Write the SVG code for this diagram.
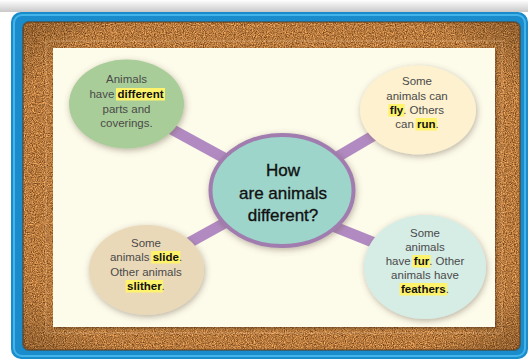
<svg xmlns="http://www.w3.org/2000/svg" width="528" height="360" viewBox="0 0 528 360">
<defs>
<style>
.t{font-family:"Liberation Sans",Arial,sans-serif;font-size:11.5px;fill:#4a4a4a}
.b{font-weight:bold;fill:#111}
.c{font-family:"Liberation Sans",Arial,sans-serif;font-size:17px;fill:#111;text-anchor:middle;stroke:#111;stroke-width:0.35}
.hl{fill:#fff36b}
.bar{stroke:#b28ac2;stroke-width:11;stroke-linecap:butt}
</style>
<filter id="cork" x="0" y="0" width="100%" height="100%" color-interpolation-filters="sRGB">
<feTurbulence type="fractalNoise" baseFrequency="0.9" numOctaves="3" seed="4" result="n"/>
<feColorMatrix in="n" type="matrix" values="0.9 0 0 0 0.27  0.7 0 0 0 0.13  0.45 0 0 0 0.02  0 0 0 0 1" result="d"/>
<feComposite in="d" in2="SourceGraphic" operator="in"/>
</filter>
<filter id="sh" x="-20%" y="-20%" width="140%" height="140%">
<feDropShadow dx="1" dy="2" stdDeviation="3" flood-color="#6b5a4a" flood-opacity="0.45"/>
</filter>
<filter id="psh" x="-5%" y="-5%" width="110%" height="110%">
<feDropShadow dx="1.5" dy="1.5" stdDeviation="1.2" flood-color="#3a2510" flood-opacity="0.5"/>
</filter>
<radialGradient id="vig" cx="50%" cy="50%" r="72%">
<stop offset="80%" stop-color="#000" stop-opacity="0"/>
<stop offset="100%" stop-color="#3a1e05" stop-opacity="0.3"/>
</radialGradient>
<linearGradient id="topsh" x1="0" y1="0" x2="0" y2="1">
<stop offset="0" stop-color="#fff"/>
<stop offset="1" stop-color="#c9c9c9"/>
</linearGradient>
</defs>
<rect width="528" height="360" fill="#ffffff"/>
<rect x="0" y="0" width="528" height="12" fill="url(#topsh)"/>
<g id="frame">
<rect x="11" y="12" width="517" height="347" rx="10" fill="#1a8ccc"/>
<rect x="14" y="15" width="511" height="341" rx="8" fill="none" stroke="#43b4ea" stroke-width="2"/>
<rect x="23" y="22" width="497" height="328" rx="6" fill="#b8804a" filter="url(#cork)"/>
<rect x="23" y="22" width="497" height="328" rx="6" fill="url(#vig)"/>
<rect x="23" y="22" width="497" height="328" rx="6" fill="none" stroke="#5a3512" stroke-opacity="0.5" stroke-width="2"/>
<rect x="46" y="41" width="456" height="292" fill="none" stroke="#f0d2a5" stroke-opacity="0.35" stroke-width="1"/>
<rect x="53" y="48" width="442" height="279" fill="#fdfbea" filter="url(#psh)"/>
</g>
<g id="connectors">
<line class="bar" x1="140" y1="112" x2="250" y2="172"/>
<line class="bar" x1="400" y1="120" x2="310" y2="173"/>
<line class="bar" x1="165" y1="256" x2="250" y2="209"/>
<line class="bar" x1="300" y1="213" x2="400" y2="253"/>
</g>
<g id="center">
<ellipse cx="282" cy="190.5" rx="71.5" ry="55.5" fill="#9dd5cb" stroke="#a17daf" stroke-width="4" filter="url(#sh)"/>
<text class="c" x="283" y="176">How</text>
<text class="c" x="283" y="199">are animals</text>
<text class="c" x="283" y="221">different?</text>
</g>
<g id="parts">
<ellipse cx="126.5" cy="104" rx="57.5" ry="44.5" fill="#a9cd98" filter="url(#sh)"/>
<rect class="hl" x="116" y="88" width="49" height="12.5"/>
<text class="t" x="126.5" y="83" text-anchor="middle">Animals</text>
<text class="t" x="89.4" y="98">have <tspan class="b">different</tspan></text>
<text class="t" x="126.5" y="112.5" text-anchor="middle">parts and</text>
<text class="t" x="126.5" y="127" text-anchor="middle">coverings.</text>
</g>
<g id="fly">
<ellipse cx="418" cy="110" rx="58" ry="44.5" fill="#fdf1cf" filter="url(#sh)"/>
<rect class="hl" x="388.3" y="104" width="16.4" height="12.5"/>
<rect class="hl" x="415.5" y="118" width="21.5" height="12.5"/>
<text class="t" x="417" y="85" text-anchor="middle">Some</text>
<text class="t" x="417" y="99.5" text-anchor="middle">animals can</text>
<text class="t" x="389.8" y="114"><tspan class="b">fly</tspan>. Others</text>
<text class="t" x="395.3" y="128">can <tspan class="b">run</tspan>.</text>
</g>
<g id="slide">
<ellipse cx="146.5" cy="270" rx="57.5" ry="45" fill="#ead9b9" filter="url(#sh)"/>
<rect class="hl" x="151.2" y="251" width="29.2" height="12.5"/>
<rect class="hl" x="125.6" y="280" width="37.5" height="12.5"/>
<text class="t" x="146" y="247" text-anchor="middle">Some</text>
<text class="t" x="109.9" y="261">animals <tspan class="b">slide</tspan>.</text>
<text class="t" x="146" y="275.5" text-anchor="middle">Other animals</text>
<text class="t" x="127.1" y="290"><tspan class="b">slither</tspan>.</text>
</g>
<g id="fur">
<ellipse cx="425" cy="267" rx="61" ry="52" fill="#d6ede6" filter="url(#sh)"/>
<rect class="hl" x="412.3" y="255" width="18.3" height="12.5"/>
<rect class="hl" x="399.5" y="283" width="47.7" height="12.5"/>
<text class="t" x="425" y="237" text-anchor="middle">Some</text>
<text class="t" x="425" y="251" text-anchor="middle">animals</text>
<text class="t" x="385.7" y="265">have <tspan class="b">fur</tspan>. Other</text>
<text class="t" x="425" y="279" text-anchor="middle">animals have</text>
<text class="t" x="401" y="293"><tspan class="b">feathers</tspan>.</text>
</g>
</svg>
